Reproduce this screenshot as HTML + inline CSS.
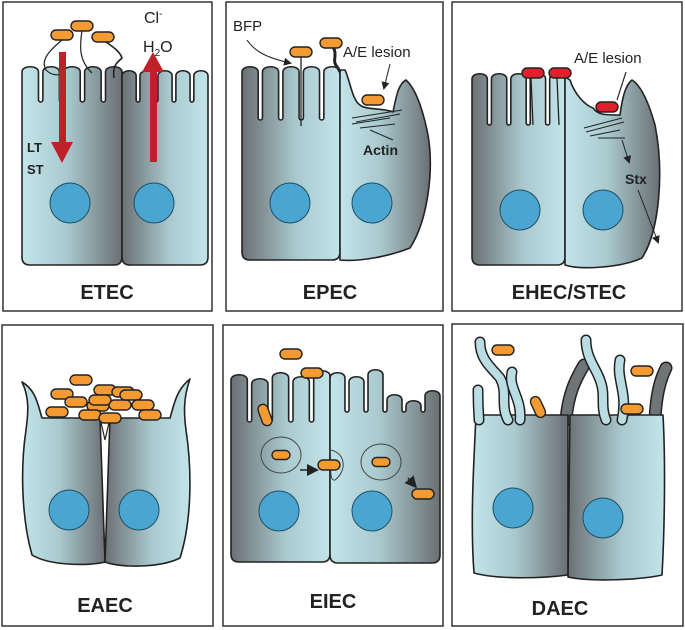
<!DOCTYPE html>
<html><head><meta charset="utf-8"><style>
html,body{margin:0;padding:0;background:#fff}
svg{display:block}
text{font-family:"Liberation Sans",sans-serif}
</style></head><body>
<svg id="s" width="685" height="630" viewBox="0 0 685 630" xmlns="http://www.w3.org/2000/svg">
<defs>
<linearGradient id="gL" x1="0" x2="1" y1="0" y2="0"><stop offset="0" stop-color="#c2e5e9"/><stop offset="0.45" stop-color="#a9c9ce"/><stop offset="1" stop-color="#6b7073"/></linearGradient>
<linearGradient id="gR" x1="0" x2="1" y1="0" y2="0"><stop offset="0" stop-color="#6b7073"/><stop offset="0.55" stop-color="#a9c9ce"/><stop offset="1" stop-color="#c2e5e9"/></linearGradient>
<marker id="ah" markerWidth="8" markerHeight="8" refX="6" refY="4" orient="auto"><path d="M0,0 L8,4 L0,8 Z" fill="#222"/></marker>
</defs>
<g id="boxes" fill="none" stroke="#333" stroke-width="1.5">
<rect x="3" y="2" width="209" height="309"/>
<rect x="226" y="2" width="217" height="309"/>
<rect x="452" y="2" width="230" height="309"/>
<rect x="2" y="325" width="211" height="301"/>
<rect x="223" y="325" width="220" height="301"/>
<rect x="452" y="324" width="231" height="302"/>
</g>
<g id="cells"></g>
<g font-weight="bold" font-size="20" text-anchor="middle" fill="#222">
<text x="107" y="299">ETEC</text>
<text x="330" y="299">EPEC</text>
<text x="569" y="299">EHEC/STEC</text>
<text x="105" y="612">EAEC</text>
<text x="333" y="608">EIEC</text>
<text x="560" y="615">DAEC</text>
</g>
</svg>
<script>
const G=document.getElementById('cells');
let out='';
const ST='stroke="#222" stroke-width="1.6" stroke-linejoin="round"';
function cell(x0,x1,top,gap,bot,n,grad,hs){
  const g=(x1-x0)/n*0.22, fw=(x1-x0-(n-1)*g)/n;
  hs=hs||[];
  let d=`M${x0},${bot-8} Q${x0},${bot} ${x0+8},${bot} L${x1-8},${bot} Q${x1},${bot} ${x1},${bot-8} `;
  for(let i=n-1;i>=0;i--){
    const fl=x0+i*(fw+g), fr=fl+fw, t=top+(hs[i]||0);
    d+=`L${fr},${t+4} C${fr},${t-3} ${fl},${t-3} ${fl},${t+4} `;
    if(i>0){const pr=fl-g; d+=`L${fl},${gap-g/2} A${g/2},${g/2} 0 0 1 ${pr},${gap-g/2} `;}
  }
  d+='Z';
  out+=`<path d="${d}" fill="url(#${grad})" ${ST}/>`;
}
function P(d,grad){out+=`<path d="${d}" fill="url(#${grad})" ${ST}/>`;}
function nuc(x,y,r){out+=`<circle cx="${x}" cy="${y}" r="${r}" fill="#4aa6d1" stroke="#1e4f66" stroke-width="1"/>`;}
function bac(x,y,c,rot,w,h){w=w||22;h=h||10;out+=`<rect x="${x-w/2}" y="${y-h/2}" width="${w}" height="${h}" rx="${h/2}" fill="${c||'#f39a32'}" stroke="#222" stroke-width="1.4" ${rot?`transform="rotate(${rot} ${x} ${y})"`:''}/>`;}
function line(d,w,m){out+=`<path d="${d}" fill="none" stroke="#222" stroke-width="${w||1.2}" ${m?'marker-end="url(#ah)"':''}/>`;}
function txt(x,y,s,sz,b){out+=`<text x="${x}" y="${y}" font-size="${sz||14}" ${b?'font-weight="bold"':''} fill="#222">${s}</text>`;}

// ETEC
cell(22,122,68,102,265,5,'gL');
cell(122,208,72,102,265,5,'gR');
nuc(70,203,20);nuc(154,203,20);
line('M62,40 C50,50 40,60 46,70 C52,76 60,76 66,72');
line('M82,30 C80,45 78,60 92,73');
line('M103,40 C115,48 120,52 122,58 C118,62 112,65 114,78',1.6);
bac(62,35);bac(82,26);bac(103,37);
out+='<rect x="59" y="52" width="7" height="92" fill="#c0202a"/><path d="M51,142 L73,142 L62,163 Z" fill="#c0202a"/>';
out+='<rect x="150" y="70" width="7" height="92" fill="#c0202a"/><path d="M142,72 L164,72 L153,52 Z" fill="#c0202a"/>';
txt(27,152,'LT',13,true);txt(27,174,'ST',13,true);
txt(144,23,'Cl<tspan font-size="10" dy="-6">-</tspan>',16);txt(143,52,'H<tspan font-size="10" dy="4">2</tspan><tspan dy="-4">O</tspan>',16);

// EPEC
cell(242,340,68,120,260,5,'gR');
P('M340,260 C360,262 390,256 410,248 C428,220 434,170 428,135 C422,105 415,88 406,80 C398,84 396,98 393,112 C385,108 365,110 360,105 C352,100 350,80 345,70 L340,70 Z','gL');
nuc(290,203,20);nuc(372,203,20);
line('M301,52 L301,126',1.3);line('M331,44 C340,55 330,60 338,68 L340,72',3);
bac(301,52);bac(331,43);bac(373,100);
line('M352,118 L402,110 M356,122 L400,114 M352,124 L390,118 M360,128 L395,124 M370,130 L393,140',1);
txt(233,31,'BFP',15);line('M247,40 C255,52 268,58 290,63',1,true);
txt(343,57,'A/E lesion',15);line('M390,64 L384,88',1,true);
txt(363,155,'Actin',14,true);

// EHEC
cell(472,565,75,125,265,5,'gR');
P('M565,265 C580,270 620,268 642,258 C660,230 664,170 655,125 C648,100 640,85 632,80 C625,85 622,100 620,115 C605,115 598,115 593,108 C585,105 575,95 570,80 L565,77 Z','gL');
nuc(520,210,20);nuc(603,210,20);
line('M531,78 L533,125 M557,78 L559,125',1.3);
bac(533,73,'#e0202a');bac(560,73,'#e0202a');bac(607,107,'#e0202a');
line('M584,128 L622,118 M586,132 L624,122 M590,136 L620,130 M598,138 L625,138',1);
txt(574,63,'A/E lesion',15);line('M626,72 L617,100',1.2);
line('M622,140 L629,162',1,true);txt(625,184,'Stx',14,true);line('M638,190 L658,242',1,true);

// EAEC
P('M105,562 C90,566 50,566 32,555 C22,520 20,470 26,430 C28,415 30,398 22,382 C36,390 38,405 42,418 L100,418 Z','gL');
P('M105,562 C120,568 160,568 180,558 C192,520 192,470 186,430 C184,415 183,398 190,379 C176,390 174,405 170,418 L110,418 Z','gR');
out+='<path d="M100,418 L105,440 L110,418 Z" fill="#fff" stroke="#222" stroke-width="1.2"/>';
nuc(69,510,20);nuc(139,510,20);
[[81,380],[62,394],[76,402],[105,390],[123,392],[98,406],[120,405],[131,395],[143,405],[57,412],[90,415],[110,418],[150,415],[100,400]].forEach(p=>bac(p[0],p[1]));

// EIEC
cell(231,330,376,422,562,5,'gR',[0,4,-2,2,-4]);
cell(330,440,374,412,563,6,'gL',[0,4,-3,22,28,18]);
nuc(279,511,20);nuc(372,511,20);
out+='<ellipse cx="281" cy="455" rx="20" ry="18" fill="none" stroke="#444" stroke-width="1"/><ellipse cx="381" cy="462" rx="20" ry="18" fill="none" stroke="#444" stroke-width="1"/><path d="M330,450 C345,452 348,470 335,480 C328,482 332,460 330,450" fill="none" stroke="#444" stroke-width="1"/>';
bac(291,354);bac(312,373);bac(265,415,null,70);bac(281,455,null,0,18,9);bac(329,465);bac(381,462,null,0,18,9);bac(423,494);
line('M300,470 L316,470',1.5,true);line('M408,478 L415,486',1.5,true);

// DAEC
function vil(d){out+=`<path d="${d}" fill="none" stroke="#222" stroke-width="11" stroke-linecap="round"/><path d="${d}" fill="none" stroke="#b9dde2" stroke-width="8" stroke-linecap="round"/>`;}
function gvil(d){out+=`<path d="${d}" fill="none" stroke="#222" stroke-width="13" stroke-linecap="round"/><path d="${d}" fill="none" stroke="#6f7477" stroke-width="10" stroke-linecap="round"/>`;}
gvil('M566,420 C568,395 575,380 584,365');
gvil('M655,420 C656,395 660,380 666,368');
P('M474,573 C500,580 545,578 568,575 L568,415 L476,415 C474,460 470,520 474,573 Z','gL');
P('M568,577 C590,582 640,580 662,575 C664,540 666,470 663,415 L570,415 Z','gR');
vil('M479,420 C478,405 478,395 478,390');
vil('M480,342 C480,360 492,368 500,378 C508,392 500,405 508,420');
vil('M512,372 C508,388 522,398 520,420');
vil('M586,340 C586,358 596,368 600,380 C606,395 600,405 606,420');
vil('M620,360 C616,380 628,392 622,420');
nuc(513,508,20);nuc(603,518,20);
bac(503,350);bac(538,407,null,65);bac(642,371);bac(632,409);
G.innerHTML=out;
</script>
</body></html>
